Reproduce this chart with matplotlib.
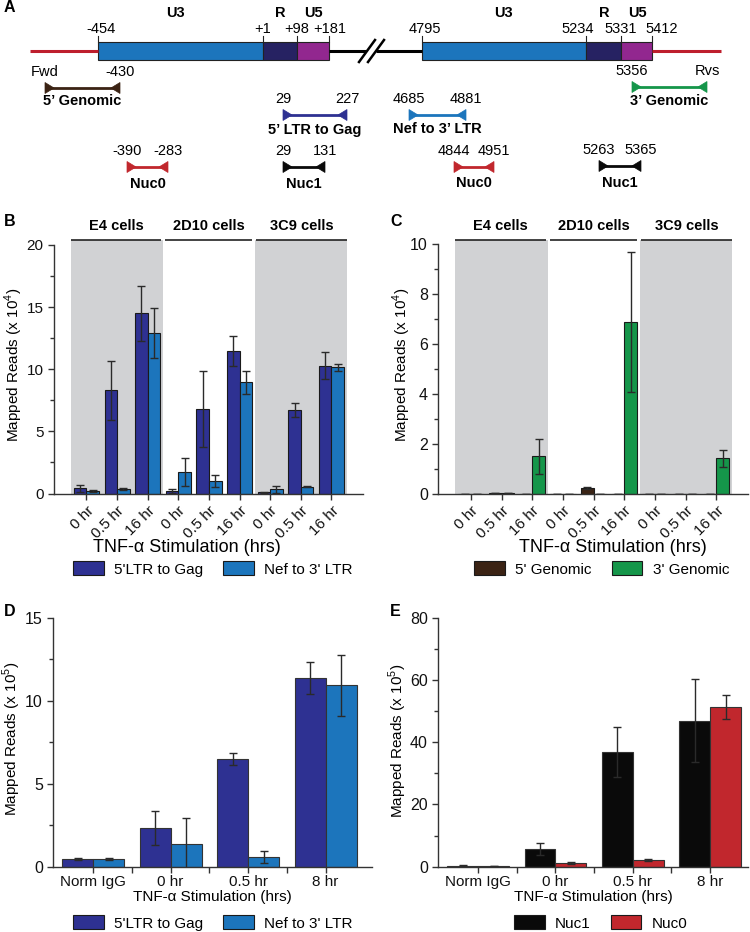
import matplotlib
matplotlib.use('Agg')
import matplotlib.pyplot as plt
import numpy as np
from matplotlib.patches import Rectangle, Polygon

plt.rcParams['font.family'] = ['Liberation Sans', 'DejaVu Sans']
plt.rcParams['mathtext.fontset'] = 'custom'
plt.rcParams['mathtext.rm'] = 'Liberation Sans'

# ---------------- data ----------------
cells = ['E4 cells', '2D10 cells', '3C9 cells']
times_bc = ['0 hr', '0.5 hr', '16 hr']

b_ltr_gag = [0.42, 8.3, 14.5, 0.2, 6.8, 11.5, 0.1, 6.7, 10.3]
b_ltr_gag_err = [0.3, 2.35, 2.2, 0.15, 3.05, 1.2, 0.05, 0.55, 1.05]
b_nef_ltr = [0.2, 0.36, 12.9, 1.75, 1.0, 8.95, 0.34, 0.55, 10.15]
b_nef_ltr_err = [0.1, 0.08, 2.0, 1.13, 0.45, 0.93, 0.3, 0.05, 0.3]

c_5gen = [0.02, 0.03, 0.0, 0.0, 0.25, 0.0, 0.01, 0.02, 0.0]
c_5gen_err = [0, 0, 0, 0, 0.03, 0, 0, 0, 0]
c_3gen = [0.02, 0.03, 1.52, 0.02, 0.02, 6.87, 0.02, 0.02, 1.43]
c_3gen_err = [0, 0, 0.7, 0, 0, 2.8, 0, 0, 0.35]

cats_de = ['Norm IgG', '0 hr', '0.5 hr', '8 hr']
d_ltr_gag = [0.46, 2.35, 6.49, 11.35]
d_ltr_gag_err = [0.05, 1.02, 0.35, 0.96]
d_nef_ltr = [0.45, 1.37, 0.6, 10.93]
d_nef_ltr_err = [0.05, 1.55, 0.37, 1.83]

e_nuc1 = [0.35, 5.6, 36.8, 46.9]
e_nuc1_err = [0.05, 1.9, 8.0, 13.3]
e_nuc0 = [0.3, 1.3, 2.05, 51.4]
e_nuc0_err = [0.05, 0.3, 0.3, 3.8]

# ---------------- styles ----------------
C_DBLUE = '#2e3192'
C_LBLUE = '#1c75bc'
C_BROWN = '#3b2314'
C_GREEN = '#15964a'
C_BLACK = '#0a0a0a'
C_RED = '#c1272d'
C_GRAY = '#d1d2d4'
C_NAVY = '#262262'
C_PURPLE = '#92278f'
C_LINE = '#be1e2d'
AX_COL = '#333333'

W, H = 750, 932
fig = plt.figure(figsize=(W / 100, H / 100), dpi=100)


def ax_px(l, t, r, b, **kw):
    return fig.add_axes([l / W, 1 - b / H, (r - l) / W, (b - t) / H], **kw)


def style_axes(ax):
    for s in ['top', 'right']:
        ax.spines[s].set_visible(False)
    for s in ['left', 'bottom']:
        ax.spines[s].set_color(AX_COL)
        ax.spines[s].set_linewidth(1.0)
    ax.tick_params(which='both', direction='out', color=AX_COL, width=1.0,
                   colors='#111111')
    ax.tick_params(axis='y', labelsize=11.5)
    ax.tick_params(which='major', length=4)
    ax.tick_params(which='minor', length=3)
    ax.set_facecolor('none')


# ---------------- panel A (schematic) ----------------
ax0 = fig.add_axes([0, 0, 1, 1], zorder=-1)
ax0.set_xlim(0, W)
ax0.set_ylim(H, 0)
ax0.axis('off')

LINE_Y = 51
ax0.plot([30, 98], [LINE_Y, LINE_Y], color=C_LINE, lw=2.2, solid_capstyle='butt')
ax0.plot([652, 721], [LINE_Y, LINE_Y], color=C_LINE, lw=2.2, solid_capstyle='butt')
ax0.plot([329, 366], [LINE_Y, LINE_Y], color='black', lw=2.2, solid_capstyle='butt')
ax0.plot([376, 422], [LINE_Y, LINE_Y], color='black', lw=2.2, solid_capstyle='butt')
for dx in (0, 9):
    ax0.plot([359 + dx, 375 + dx], [62, 40], color='black', lw=1.8)

ltr_segments = [  # (x0, x1, color)
    (98, 263, C_LBLUE), (263, 297, C_NAVY), (297, 329, C_PURPLE),
    (422, 586, C_LBLUE), (586, 621, C_NAVY), (621, 652, C_PURPLE),
]
for x0, x1, col in ltr_segments:
    ax0.add_patch(Rectangle((x0, 42), x1 - x0, 18, facecolor=col,
                            edgecolor='#222222', lw=0.8))
for xb in (98, 263, 297, 329, 422, 586, 621, 652):
    ax0.plot([xb, xb], [36, 42], color='#222222', lw=0.8)

region_names = ['U3', 'R', 'U5', 'U3', 'R', 'U5']
region_x = [175, 280, 313, 503, 604, 637]
for name, x in zip(region_names, region_x):
    ax0.text(x, 13, name, ha='center', va='center', fontsize=10.5, fontweight='bold')

bound_labels = ['-454', '+1', '+98', '+181', '4795', '5234', '5331', '5412']
bound_x = [101, 263, 297, 330, 425, 578, 621, 662]
for lab, x in zip(bound_labels, bound_x):
    ax0.text(x, 29, lab, ha='center', va='center', fontsize=10.5)

primer_names = ["5\u2019 Genomic", "5\u2019 LTR to Gag", 'Nuc0', 'Nuc1',
                "3\u2019 Genomic", "Nef to 3\u2019 LTR", 'Nuc0', 'Nuc1']
primer_left = ['Fwd', '29', '-390', '29', '5356', '4685', '4844', '5263']
primer_right = ['-430', '227', '-283', '131', 'Rvs', '4881', '4951', '5365']
primer_colors = [C_BROWN, C_DBLUE, C_RED, C_BLACK, C_GREEN, C_LBLUE, C_RED, C_BLACK]
primer_layout = [  # x0, x1, y, label_y
    (45, 120, 88, 101), (283, 347, 115, 130), (127, 168, 167, 184),
    (283, 325, 167, 184), (632, 707, 87, 101), (409, 466, 115, 129),
    (454, 494, 167, 183), (599, 641, 166, 183),
]
for name, lt, rt, col, (x0, x1, y, ly) in zip(primer_names, primer_left, primer_right,
                                               primer_colors, primer_layout):
    ax0.plot([x0 + 2, x1 - 2], [y, y], color=col, lw=2.0, solid_capstyle='butt')
    ax0.add_patch(Polygon([(x0, y - 5.5), (x0, y + 5.5), (x0 + 9, y)], closed=True,
                          facecolor=col, edgecolor=col, lw=0.5))
    ax0.add_patch(Polygon([(x1, y - 5.5), (x1, y + 5.5), (x1 - 9, y)], closed=True,
                          facecolor=col, edgecolor=col, lw=0.5))
    ax0.text(x0, y - 16, lt, ha='center', va='center', fontsize=10.5)
    ax0.text(x1, y - 16, rt, ha='center', va='center', fontsize=10.5)
    ax0.text((x0 + x1) / 2, ly, name, ha='center', va='center', fontsize=10.5,
             fontweight='bold')

# panel letters
for letter, (x, y) in zip('ABCDE', [(4, 8), (4, 222), (390, 222), (4, 611), (390, 611)]):
    ax0.text(x, y, letter, ha='left', va='center', fontsize=11.5, fontweight='bold')


# ---------------- panels B and C ----------------
def grouped_bc(ax, s1, e1, s2, e2, c1, c2, ymax, ytop, major, minor, labels,
               legend_x, xlabel_x):
    n = len(s1)
    x = np.arange(n)
    w = 0.41
    ax.set_xlim(-1.06, 9.03)
    ax.set_ylim(0, ytop)
    ax.spines['left'].set_bounds(0, ymax)
    for g in (0, 2):
        ax.axvspan(3 * g - 0.5, 3 * g + 2.5, color=C_GRAY, lw=0, zorder=0)
    spans = [(-0.5, 2.45), (2.58, 5.42), (5.55, 8.5)]
    for (a, b), name in zip(spans, cells):
        ax.plot([a, b], [ytop, ytop], color='#222222', lw=1.2, clip_on=False,
                solid_capstyle='butt')
        ax.annotate(name, xy=((a + b) / 2, ytop), xytext=(0, 10),
                    textcoords='offset points', ha='center', va='center',
                    fontsize=10.5, fontweight='bold', annotation_clip=False)
    ekw = dict(ecolor='#2a2a2a', elinewidth=1.0, capsize=2.6, capthick=1.0)
    ax.bar(x - w / 2, s1, w, yerr=e1, color=c1, edgecolor='#1a1a1a', lw=0.8,
           error_kw=ekw, zorder=2, label=labels[0])
    ax.bar(x + w / 2, s2, w, yerr=e2, color=c2, edgecolor='#1a1a1a', lw=0.8,
           error_kw=ekw, zorder=2, label=labels[1])
    ax.set_yticks(major)
    ax.set_yticks(minor, minor=True)
    ax.set_xticks(x)
    ax.set_xticklabels(times_bc * 3, rotation=45, ha='right', rotation_mode='anchor',
                       fontsize=11)
    ax.tick_params(axis='x', pad=3)
    ax.set_xlabel('TNF-\u03b1 Stimulation (hrs)', fontsize=13, va='center')
    ax.xaxis.set_label_coords(xlabel_x, -0.212)
    leg = ax.legend(loc='center left', bbox_to_anchor=(legend_x / W, 1 - 569 / H),
                    bbox_transform=fig.transFigure, ncol=2, frameon=False,
                    fontsize=11, handlelength=2.0, handleheight=1.0,
                    handletextpad=0.7, columnspacing=1.3, borderpad=0,
                    borderaxespad=0)
    for p in leg.get_patches():
        p.set_edgecolor('#1a1a1a')


axB = ax_px(54, 240, 363, 493.5)
style_axes(axB)
axB.tick_params(axis='y', labelsize=11)
grouped_bc(axB, b_ltr_gag, b_ltr_gag_err, b_nef_ltr, b_nef_ltr_err, C_DBLUE, C_LBLUE,
           20, 20.4, [0, 5, 10, 15, 20], np.arange(0, 20.1, 2.5),
           ["5'LTR to Gag", "Nef to 3' LTR"], 73, 0.43)
fig.text(14 / W, 1 - 365 / H, 'Mapped Reads (x 10$^4$)', rotation=90,
         ha='center', va='center', fontsize=11)

axC = ax_px(438.3, 240, 748, 494)
style_axes(axC)
grouped_bc(axC, c_5gen, c_5gen_err, c_3gen, c_3gen_err, C_BROWN, C_GREEN,
           10, 10.16, [0, 2, 4, 6, 8, 10], np.arange(0, 10.1, 1),
           ["5' Genomic", "3' Genomic"], 474, 0.564)
fig.text(402 / W, 1 - 365 / H, 'Mapped Reads (x 10$^4$)', rotation=90,
         ha='center', va='center', fontsize=11)


# ---------------- panels D and E ----------------
def grouped_de(ax, s1, e1, s2, e2, c1, c2, xmax, ymax, major, minor, labels, legend_x):
    x = np.arange(len(cats_de))
    w = 0.4
    ekw = dict(ecolor='#2a2a2a', elinewidth=1.0, capsize=2.6, capthick=1.0)
    ax.bar(x - w / 2, s1, w, yerr=e1, color=c1, edgecolor='#333333', lw=0.8,
           error_kw=ekw, zorder=2, label=labels[0])
    ax.bar(x + w / 2, s2, w, yerr=e2, color=c2, edgecolor='#333333', lw=0.8,
           error_kw=ekw, zorder=2, label=labels[1])
    ax.set_xlim(-0.515, xmax)
    ax.set_ylim(0, ymax)
    ax.set_yticks(major)
    ax.set_yticks(minor, minor=True)
    ax.set_xticks(x)
    ax.set_xticks(x[:-1] + 0.5, minor=True)
    ax.set_xticklabels(cats_de, fontsize=11)
    ax.tick_params(axis='x', pad=2)
    ax.tick_params(axis='x', which='minor', length=4)
    ax.set_xlabel('TNF-\u03b1 Stimulation (hrs)', fontsize=11, labelpad=1)
    leg = ax.legend(loc='center left', bbox_to_anchor=(legend_x / W, 1 - 923 / H),
                    bbox_transform=fig.transFigure, ncol=2, frameon=False,
                    fontsize=11, handlelength=2.0, handleheight=1.0,
                    handletextpad=0.7, columnspacing=1.3, borderpad=0,
                    borderaxespad=0)
    for p in leg.get_patches():
        p.set_edgecolor('#1a1a1a')


axD = ax_px(53.3, 617.7, 372, 866.7)
style_axes(axD)
grouped_de(axD, d_ltr_gag, d_ltr_gag_err, d_nef_ltr, d_nef_ltr_err, C_DBLUE, C_LBLUE,
           3.6, 15, [0, 5, 10, 15], np.arange(0, 15.1, 2.5),
           ["5'LTR to Gag", "Nef to 3' LTR"], 73)
fig.text(12 / W, 1 - 739 / H, 'Mapped Reads (x 10$^5$)', rotation=90,
         ha='center', va='center', fontsize=11)

axE = ax_px(438.3, 617.8, 748, 866.7)
style_axes(axE)
grouped_de(axE, e_nuc1, e_nuc1_err, e_nuc0, e_nuc0_err, C_BLACK, C_RED,
           3.49, 80, [0, 20, 40, 60, 80], np.arange(0, 80.1, 10),
           ['Nuc1', 'Nuc0'], 514)
fig.text(398 / W, 1 - 741 / H, 'Mapped Reads (x 10$^5$)', rotation=90,
         ha='center', va='center', fontsize=11)

fig.savefig('out.png', dpi=100)
